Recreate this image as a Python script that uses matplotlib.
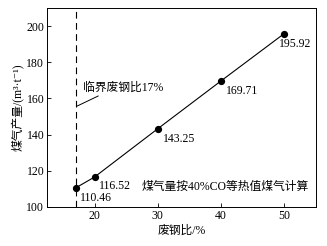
import matplotlib
matplotlib.use('Agg')
import matplotlib.pyplot as plt

plt.rcParams['font.family'] = ['Liberation Serif', 'Noto Sans CJK SC', 'DejaVu Serif']

scrap_ratio = [17, 20, 30, 40, 50]
gas_yield = [110.46, 116.52, 143.25, 169.71, 195.92]
point_labels = ['110.46', '116.52', '143.25', '169.71', '195.92']
critical_ratio = 17

fig = plt.figure(figsize=(3.27, 2.46), dpi=100)
ax = fig.add_axes([0.144, 0.159, 0.822, 0.808])

ax.plot(scrap_ratio, gas_yield, 'k-', lw=0.8, marker='o', ms=4.2)
ax.axvline(critical_ratio, color='k', ls=(0, (6, 4)), lw=0.8)

# label offsets in points; the last one is pulled left to stay inside
offsets = [(3.5, -3), (3.5, -2), (3.5, -3), (3.5, -3), (-3.5, -3)]
for x, y, s, off in zip(scrap_ratio, gas_yield, point_labels, offsets):
    ax.annotate(s, (x, y), xytext=off, textcoords='offset points',
                ha='left', va='top', fontsize=8.5)

# leader line for the critical ratio note
ax.annotate('', xy=(17.25, 155.8), xytext=(20.6, 161.4),
            arrowprops=dict(arrowstyle='-', lw=0.7, color='k',
                            shrinkA=0, shrinkB=0))
ax.text(18.2, 165.8, '临界废钢比17%', fontsize=8.5, va='center', ha='left')
ax.text(0.974, 0.10, '煤气量按40%CO等热值煤气计算', transform=ax.transAxes,
        ha='right', va='center', fontsize=8.5)

ax.set_xlim(12.5, 55)
ax.set_ylim(100, 210)
ax.set_xticks([20, 30, 40, 50])
ax.set_yticks([100, 120, 140, 160, 180, 200])
ax.tick_params(direction='in', length=3, width=0.6, labelsize=8.5, pad=2)
for sp in ax.spines.values():
    sp.set_linewidth(0.7)

ax.set_xlabel('废钢比/%', fontsize=8.5, labelpad=2)
ax.set_ylabel('煤气产量/(m³·t⁻¹)', fontsize=8.5, labelpad=2)

fig.savefig('out.png', dpi=100)
